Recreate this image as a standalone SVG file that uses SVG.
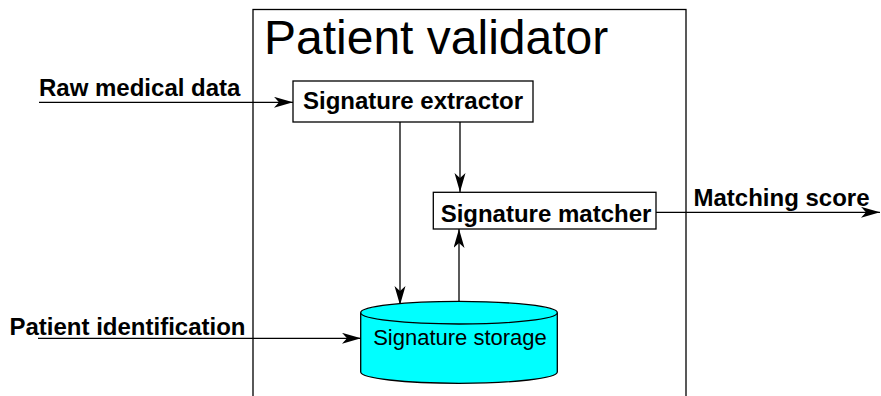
<svg xmlns="http://www.w3.org/2000/svg" width="881" height="396" viewBox="0 0 881 396">
<style>
.box{fill:#fff;stroke:#000;stroke-width:1.3}
.lbl{font-family:"Liberation Sans",Arial,sans-serif;font-weight:bold;font-size:24px;fill:#000}
.reg{font-family:"Liberation Sans",Arial,sans-serif;fill:#000}
.edge{fill:none;stroke:#000;stroke-width:1.3;marker-end:url(#arr)}
</style>
<defs>
<marker id="arr" markerUnits="userSpaceOnUse" markerWidth="20" markerHeight="12" refX="19" refY="5.5" orient="auto">
<path d="M0,0 L19,5.5 L0,11 L5,5.5 z" fill="#000"/>
</marker>
</defs>
<rect x="0" y="0" width="881" height="396" fill="#fff"/>
<g id="validator">
<rect x="253" y="9.5" width="433" height="400" class="box"/>
<text x="264" y="54" class="reg" font-size="48">Patient validator</text>
</g>
<g id="connectors">
<line x1="39" y1="102.3" x2="293" y2="102.3" class="edge"/>
<line x1="38" y1="338.3" x2="361" y2="338.3" class="edge"/>
<line x1="400" y1="122" x2="400" y2="305" class="edge"/>
<line x1="460" y1="122" x2="460" y2="192" class="edge"/>
<line x1="459" y1="301" x2="459" y2="229" class="edge"/>
<line x1="656" y1="212.3" x2="880" y2="212.3" class="edge"/>
</g>
<g id="extractor">
<rect x="293" y="81" width="240" height="41" class="box"/>
<text x="413" y="109" class="lbl" text-anchor="middle">Signature extractor</text>
</g>
<g id="matcher">
<rect x="433.3" y="192.3" width="222.7" height="36.7" class="box"/>
<text x="546" y="221.7" class="lbl" text-anchor="middle">Signature matcher</text>
</g>
<g id="storage">
<path d="M360.7,312.7 L360.7,372 A98.3,11.3 0 0 0 557.3,372 L557.3,312.7" fill="#00ffff" stroke="#000" stroke-width="1.3"/>
<ellipse cx="459" cy="312.7" rx="98.3" ry="11.3" fill="#00ffff" stroke="#000" stroke-width="1.3"/>
<text x="460" y="345" class="reg" font-size="22" text-anchor="middle">Signature storage</text>
</g>
<g id="labels">
<text x="39" y="95.7" class="lbl">Raw medical data</text>
<text x="9.5" y="335" class="lbl">Patient identification</text>
<text x="693.5" y="206" class="lbl">Matching score</text>
</g>
</svg>
